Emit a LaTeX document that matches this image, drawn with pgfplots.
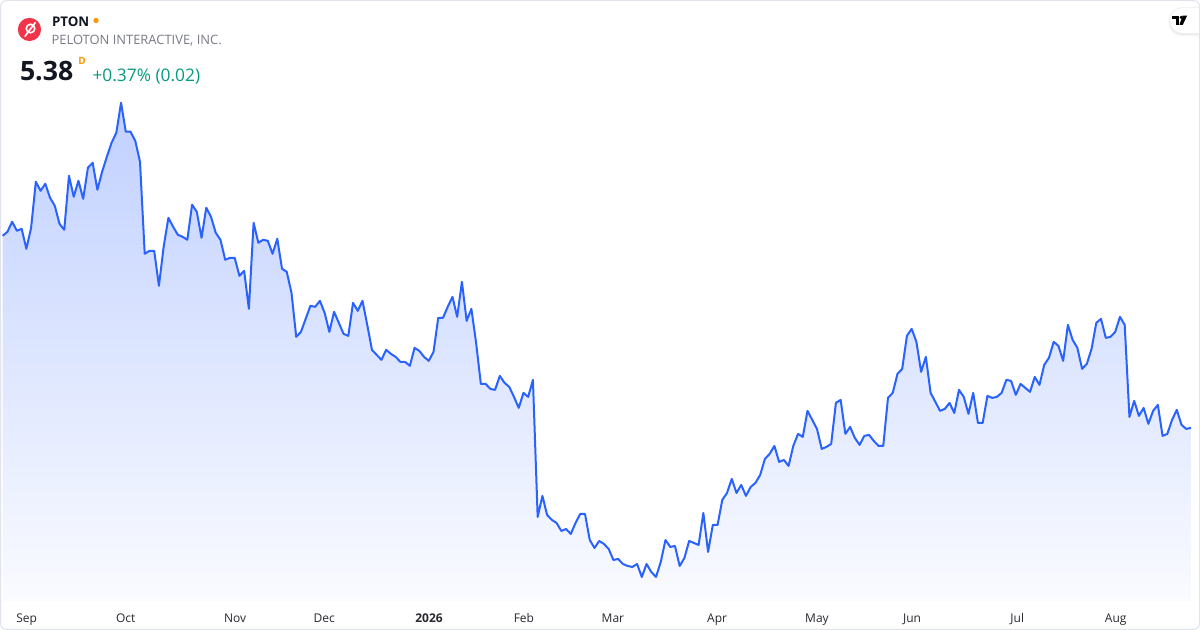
\documentclass[border=0pt]{standalone}
\usepackage{fontspec}
\setmainfont{Open Sans}
\usepackage{pgfplots}
\usepackage{pgfplotstable}
\pgfplotsset{compat=1.18}
\definecolor{tvblue}{RGB}{41,98,255}
\definecolor{filltop}{RGB}{192,208,255}
\definecolor{fillbot}{RGB}{250,251,255}
\definecolor{txtdark}{RGB}{19,23,34}
\definecolor{txtgray}{RGB}{120,123,134}
\definecolor{txtgreen}{RGB}{8,153,129}
\definecolor{dotorange}{RGB}{255,152,0}
\definecolor{bordergray}{RGB}{224,227,235}
\definecolor{logored}{RGB}{241,52,73}
\definecolor{axlabel}{RGB}{40,40,48}

\pgfplotstableread{
day price
0 7.30
1 7.34
2 7.44
3 7.35
4 7.37
5 7.17
6 7.38
7 7.84
8 7.75
9 7.82
10 7.68
11 7.60
12 7.42
13 7.36
14 7.90
15 7.69
16 7.85
17 7.67
18 7.98
19 8.03
20 7.76
21 7.94
22 8.09
23 8.23
24 8.33
25 8.63
26 8.34
27 8.34
28 8.25
29 8.04
30 7.12
31 7.15
32 7.15
33 6.80
34 7.19
35 7.48
36 7.39
37 7.31
38 7.29
39 7.26
40 7.61
41 7.54
42 7.28
43 7.58
44 7.49
45 7.33
46 7.26
47 7.06
48 7.08
49 7.08
50 6.90
51 6.95
52 6.57
53 7.43
54 7.23
55 7.26
56 7.25
57 7.12
58 7.27
59 6.97
60 6.94
61 6.73
62 6.29
63 6.34
64 6.47
65 6.60
66 6.59
67 6.65
68 6.53
69 6.34
70 6.54
71 6.43
72 6.32
73 6.30
74 6.63
75 6.55
76 6.65
77 6.41
78 6.16
79 6.11
80 6.06
81 6.16
82 6.12
83 6.09
84 6.04
85 6.04
86 6.00
87 6.18
88 6.15
89 6.09
90 6.05
91 6.14
92 6.48
93 6.48
94 6.59
95 6.69
96 6.49
97 6.84
98 6.45
99 6.57
100 6.23
101 5.82
102 5.82
103 5.77
104 5.76
105 5.90
106 5.83
107 5.79
108 5.69
109 5.58
110 5.73
111 5.69
112 5.86
113 4.49
114 4.70
115 4.51
116 4.46
117 4.43
118 4.35
119 4.37
120 4.32
121 4.43
122 4.52
123 4.52
124 4.26
125 4.18
126 4.25
127 4.22
128 4.17
129 4.06
130 4.07
131 4.02
132 4.00
133 3.99
134 4.02
135 3.89
136 4.02
137 3.94
138 3.89
139 4.04
140 4.26
141 4.19
142 4.20
143 4.00
144 4.08
145 4.25
146 4.23
147 4.21
148 4.53
149 4.14
150 4.41
151 4.41
152 4.66
153 4.73
154 4.87
155 4.73
156 4.81
157 4.70
158 4.79
159 4.83
160 4.91
161 5.07
162 5.12
163 5.20
164 5.04
165 5.06
166 5.00
167 5.20
168 5.32
169 5.29
170 5.55
171 5.46
172 5.37
173 5.17
174 5.19
175 5.22
176 5.63
177 5.66
178 5.32
179 5.39
180 5.28
181 5.21
182 5.30
183 5.31
184 5.25
185 5.20
186 5.20
187 5.68
188 5.73
189 5.92
190 5.97
191 6.30
192 6.37
193 6.24
194 5.94
195 6.09
196 5.73
197 5.64
198 5.55
199 5.57
200 5.63
201 5.53
202 5.76
203 5.69
204 5.52
205 5.73
206 5.43
207 5.43
208 5.70
209 5.68
210 5.69
211 5.73
212 5.86
213 5.85
214 5.71
215 5.82
216 5.78
217 5.74
218 5.89
219 5.81
220 6.01
221 6.08
222 6.24
223 6.20
224 6.05
225 6.41
226 6.26
227 6.18
228 5.97
229 6.02
230 6.17
231 6.43
232 6.47
233 6.28
234 6.29
235 6.34
236 6.49
237 6.41
238 5.49
239 5.65
240 5.50
241 5.58
242 5.42
243 5.55
244 5.61
245 5.30
246 5.32
247 5.46
248 5.56
249 5.41
250 5.37
251 5.38
}\pricedata

\begin{document}
\begin{tikzpicture}[x=1pt,y=1pt]
\useasboundingbox (0,0) rectangle (900,472.5);
\fill[white] (0,0) rectangle (900,472.5);

\begin{axis}[
  at={(2.025pt,21.75pt)}, anchor=south west,
  scale only axis,
  width=891.2pt, height=373.7pt,
  xmin=0, xmax=251, ymin=3.65, ymax=8.63,
  clip=false,
  axis line style={draw=none},
  major tick length=0pt,
  tick style={draw=none},
  ytick=\empty,
  xtick={5.07,26.0,49.1,67.9,90.05,110.1,128.9,150.9,172.0,192.1,214.3,235.1},
  xticklabels={Sep,Oct,Nov,Dec,\textbf{2026},Feb,Mar,Apr,May,Jun,Jul,Aug},
  xticklabel style={anchor=base, yshift=-16.3pt, font=\fontsize{9}{10}\selectfont, text=axlabel},
]
\addplot[draw=none, top color=filltop, bottom color=fillbot] table[x=day,y=price] {\pricedata} |- (axis cs:0,3.65) -- cycle;
\addplot[color=tvblue, line width=1.5pt, line join=round, mark=none] table[x=day,y=price] {\pricedata};
\end{axis}

% header: logo
\fill[logored] (22.1,450.4) circle (8.7);
\draw[white, line width=1.2pt] (22.9,451.1) circle (3.2);
\draw[white, line width=1.2pt, line cap=round] (18.8,445.3) -- (26.4,455.5);

\node[anchor=base west, inner sep=0, text=txtdark, font=\fontsize{10}{12}\selectfont\bfseries] at (38.8,452.5) {PTON};
\fill[dotorange] (72,457.1) circle (2);
\node[anchor=base west, inner sep=0, text=txtgray, font=\fontsize{9.7}{11}\selectfont] at (38.5,438.75) {PELOTON INTERACTIVE, INC.};
\node[anchor=base west, inner sep=0, text=txtdark, font=\fontsize{20}{24}\selectfont\bfseries] at (14.8,411.75) {5.38};
\node[anchor=base west, inner sep=0, text=dotorange, font=\fontsize{7.5}{9}\selectfont\bfseries] at (58.5,423.75) {D};
\node[anchor=base west, inner sep=0, text=txtgreen, font=\fontsize{13}{15}\selectfont] at (69.2,411.2) {+0.37\% (0.02)};

% TradingView badge
\begin{scope}
\clip (0,0) rectangle (899.5,472.5);
\fill[black, opacity=0.03, rounded corners=10pt] (876.3,445.2) rectangle (915,467.2);
\fill[black, opacity=0.04, rounded corners=9.6pt] (876.9,446.2) rectangle (915,466.8);
\fill[white, rounded corners=9.4pt] (877.5,447.75) rectangle (915,466.5);
\fill[black] (879.0,460.7) rectangle (884.5,458.25);
\fill[black] (881.8,458.3) rectangle (884.5,453.75);
\fill[black] (885.9,459.5) circle (1.3);
\fill[black] (887.0,460.7) -- (890.3,460.7) -- (887.0,453.75) -- (884.5,453.75) -- cycle;
\end{scope}

% border
\draw[bordergray, line width=0.75pt, rounded corners=4.5pt] (0.375,0.375) rectangle (899.625,472.125);
\end{tikzpicture}
\end{document}
